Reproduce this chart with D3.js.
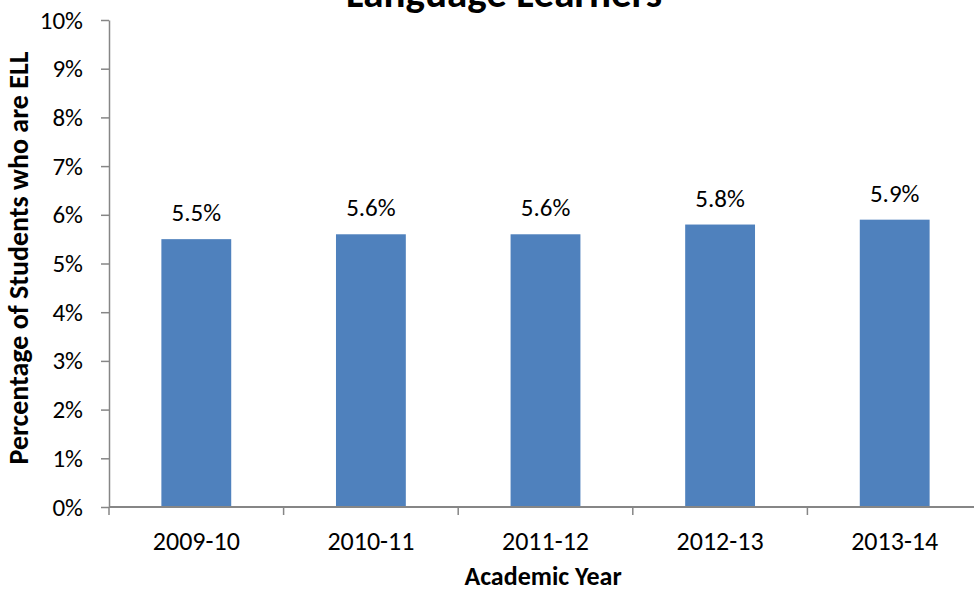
<!DOCTYPE html>
<html>
<head>
<meta charset="utf-8">
<script src="https://cdn.jsdelivr.net/npm/d3@7/dist/d3.min.js"></script>
<style>
  html, body { margin: 0; padding: 0; background: #fff; }
  svg { display: block; }
  text { font-family: Carlito, "Liberation Sans", Arial, sans-serif; fill: #000; }
</style>
</head>
<body>
<svg id="chart" width="974" height="592"></svg>
<script>
// Share of enrolled students classified as English Language Learners, by academic year
const years = ["2009-10", "2010-11", "2011-12", "2012-13", "2013-14"];
const ellShare = [5.5, 5.6, 5.6, 5.8, 5.9];
const yTicks = [0, 1, 2, 3, 4, 5, 6, 7, 8, 9, 10];

const svg = d3.select("#chart");
const plot = { left: 109, right: 982, top: 20, bottom: 507 };

const x = d3.scaleBand()
  .domain(years)
  .range([plot.left, plot.right])
  .paddingInner(0.6)
  .paddingOuter(0.3);

const y = d3.scaleLinear()
  .domain([0, 10])
  .range([plot.bottom, plot.top]);

const axisColor = "#868686";
const rows = years.map((yr, i) => ({ yr, v: ellShare[i] }));

// Bars
svg.append("g")
  .selectAll("rect")
  .data(rows)
  .join("rect")
  .attr("x", d => x(d.yr))
  .attr("y", d => y(d.v))
  .attr("width", x.bandwidth())
  .attr("height", d => y(0) - y(d.v))
  .attr("fill", "#4F81BD");

// Value labels above bars
svg.append("g")
  .selectAll("text")
  .data(rows)
  .join("text")
  .attr("x", d => x(d.yr) + x.bandwidth() / 2)
  .attr("y", d => y(d.v) - 18)
  .attr("text-anchor", "middle")
  .style("font-size", "25px")
  .text(d => d.v.toFixed(1) + "%");

// Y axis
const yAxis = svg.append("g")
  .attr("transform", `translate(${plot.left},0)`)
  .call(d3.axisLeft(y).tickValues(yTicks).tickFormat(d => d + "%").tickSize(8).tickSizeOuter(0).tickPadding(18));
yAxis.select(".domain").attr("stroke", axisColor).attr("stroke-width", 1.5);
yAxis.selectAll(".tick line").attr("stroke", axisColor).attr("stroke-width", 1.5);
yAxis.selectAll(".tick text")
  .style("font-size", "25px")
  .style("font-family", null)
  .attr("fill", "#000");

// X axis with category-boundary ticks
const xAxis = svg.append("g")
  .attr("transform", `translate(0,${plot.bottom})`)
  .call(d3.axisBottom(x).tickSize(0).tickPadding(25));
xAxis.select(".domain").remove();
xAxis.selectAll(".tick text")
  .style("font-size", "26px")
  .style("font-family", null)
  .attr("fill", "#000");
xAxis.append("line")
  .attr("x1", plot.left).attr("x2", plot.right)
  .attr("y1", 0).attr("y2", 0)
  .attr("stroke", axisColor).attr("stroke-width", 2);
const boundaries = d3.range(years.length + 1).map(i => plot.left + i * (plot.right - plot.left) / years.length);
xAxis.selectAll(".boundary")
  .data(boundaries)
  .join("line")
  .attr("class", "boundary")
  .attr("x1", d => d).attr("x2", d => d)
  .attr("y1", 0).attr("y2", 8)
  .attr("stroke", axisColor).attr("stroke-width", 1.5);

// Titles
svg.append("text")
  .attr("x", 504).attr("y", 7)
  .attr("text-anchor", "middle")
  .style("font-size", "41px")
  .style("font-weight", "bold")
  .text("Language Learners");

svg.append("text")
  .attr("x", 543).attr("y", 585)
  .attr("text-anchor", "middle")
  .style("font-size", "26px")
  .style("font-weight", "bold")
  .text("Academic Year");

svg.append("text")
  .attr("transform", "translate(28,258) rotate(-90)")
  .attr("text-anchor", "middle")
  .style("font-size", "28px")
  .style("font-weight", "bold")
  .text("Percentage of Students who are ELL");
</script>
</body>
</html>
